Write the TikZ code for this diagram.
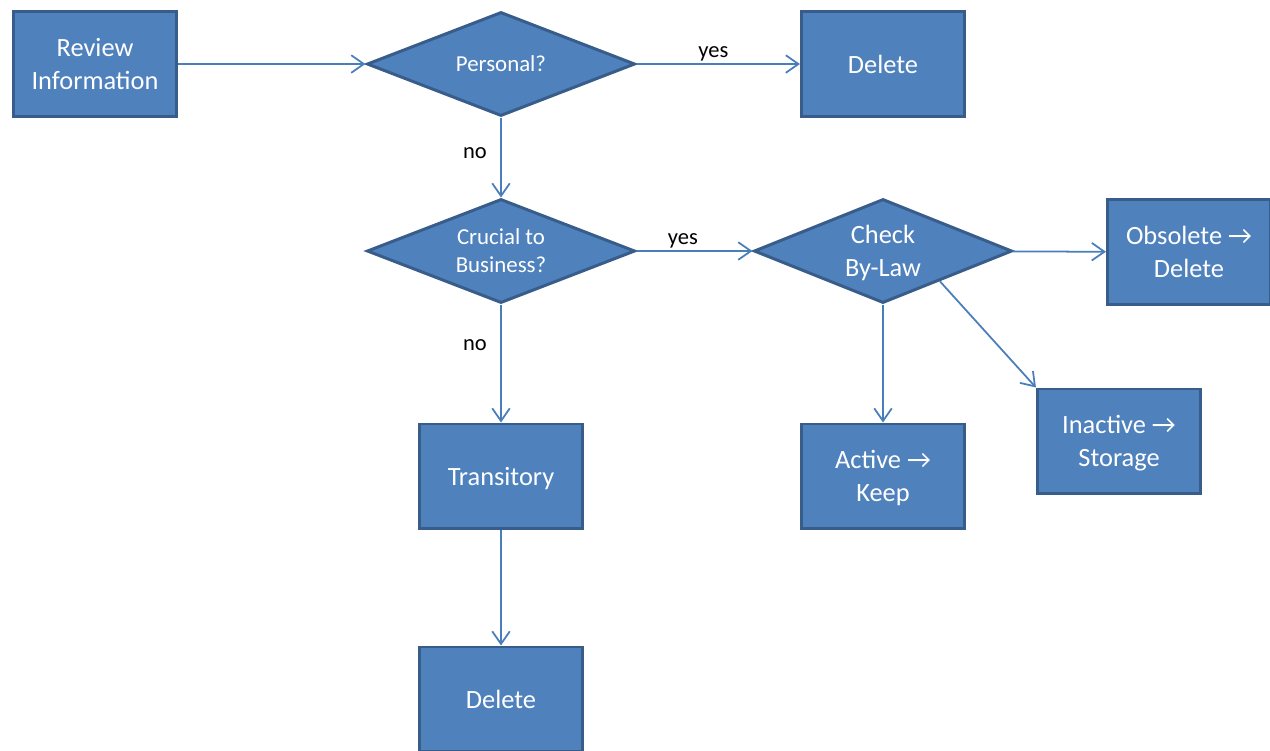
\documentclass[tikz,border=0pt]{standalone}
\usepackage{fontspec}
\setmainfont{Carlito}
\newfontfamily\symfont{DejaVu Sans}
\newcommand\rarr{\iffontchar\font"2192 \char"2192 \else{\symfont\char"2192}\fi}
\newcommand\nodepth[1]{\raisebox{0pt}[\height][0pt]{#1}}
\usetikzlibrary{shapes.geometric,arrows.meta}
\definecolor{boxfill}{HTML}{4F81BD}
\definecolor{boxline}{HTML}{385D8A}
\definecolor{edgeline}{HTML}{4A7EBB}
\tikzset{
  box/.style={draw=boxline,fill=boxfill,line width=0.85pt,text=white,align=center,
    minimum width=1.63cm,minimum height=1.04cm,inner sep=0pt,
    font=\fontsize{7.5}{9.2}\selectfont},
  test/.style={box,shape=diamond,aspect=2.5,minimum width=2.68cm},
  lbl/.style={text=black,font=\fontsize{6.4}{7.8}\selectfont,inner sep=1pt},
}
\begin{document}
\begin{tikzpicture}[x=0.01cm,y=-0.01cm]
      \useasboundingbox (0,0) rectangle (1270,750);
      \draw
        (95,64) node[box] (rev){Review\\Information}
        (501,64) node[test,font=\fontsize{6.5}{8}\selectfont] (pers){Personal?}
        (883,64) node[box] (del1){Delete}
        (501,251) node[test,font=\fontsize{6.5}{8}\selectfont] (cruc){Crucial to\\Business?}
        (883,251) node[test,minimum width=2.58cm] (chk){Check\\\nodepth{By-Law}}
        (1189,252) node[box] (obs){Obsolete \rarr\\Delete}
        (883,476) node[box] (act){Active \rarr\\\nodepth{Keep}}
        (1119,441) node[box] (inact){Inactive \rarr\\\nodepth{Storage}}
        (501,476) node[box] (trans){\nodepth{Transitory}}
        (501,699) node[box] (del2){Delete};
      \begin{scope}[edgeline,line width=0.5pt,-{Straight Barb[length=3.6pt,width=5pt]}]
        \draw (rev) to (pers);
        \draw (pers) to node[lbl,above=-0.3pt,pos=0.47] (y1){yes} (del1);
        \draw (cruc) to node[lbl,above=-0.3pt,pos=0.4] (y2){yes} (chk);
        \draw (pers) to node[lbl,left=2.8pt,pos=0.45] (n1){no} (cruc);
        \draw (cruc) to node[lbl,left=2.8pt,pos=0.34] (n2){no} (trans);
        \draw (chk) to (obs);
        \draw (chk) to (act);
        \draw (chk.-28) to (inact.north west);
        \draw (trans) to (del2);
      \end{scope}
    \end{tikzpicture}
\end{document}
